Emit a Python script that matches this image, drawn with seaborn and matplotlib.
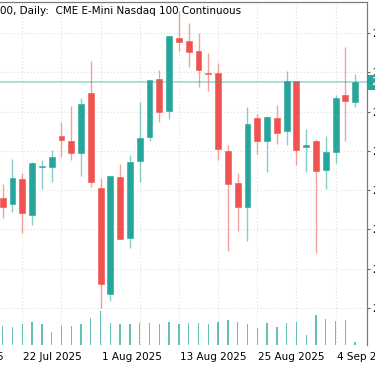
import matplotlib
matplotlib.use("Agg")
import matplotlib.pyplot as plt
import matplotlib.transforms as mtransforms
import numpy as np
import pandas as pd
import seaborn as sns

# daily bars, 18 Jul 2025 .. 8 Sep 2025
opens = [23158, 23129, 23255, 23073, 23318, 23316, 23476, 23451, 23388, 23694,
         23209, 22668, 23267, 22954, 23347, 23469, 23765, 23605, 23974, 23961,
         23911, 23799, 23796, 23401, 23235, 23115, 23566, 23452, 23569, 23503,
         23755, 23421, 23449, 23304, 23394, 23685, 23651]
highs = [23231, 23357, 23286, 23345, 23354, 23405, 23549, 23629, 23668, 23859,
         23260, 23272, 23332, 23378, 23648, 23762, 23813, 23984, 24114, 24051,
         24000, 23901, 23847, 23430, 23289, 23626, 23587, 23578, 23634, 23808,
         23755, 23512, 23459, 23476, 23685, 23929, 23792]
lows = [23056, 23090, 22980, 23022, 23204, 23243, 23370, 23354, 23273, 23217,
        22597, 22636, 22949, 22903, 23243, 23451, 23549, 23561, 23911, 23830,
        23728, 23707, 23354, 22889, 22991, 22942, 23383, 23291, 23434, 23430,
        23328, 23291, 22881, 23207, 23337, 23452, 23624]
closes = [23115, 23260, 23082, 23337, 23323, 23367, 23456, 23388, 23639, 23243,
          22719, 23272, 22949, 23342, 23467, 23762, 23597, 23984, 23957, 23906,
          23813, 23792, 23410, 23230, 23115, 23537, 23451, 23573, 23493, 23758,
          23403, 23432, 23299, 23393, 23668, 23655, 23750]
volumes = [386, 354, 414, 460, 414, 254, 386, 386, 420, 534,
           680, 434, 414, 414, 446, 434, 414, 454, 414, 446,
           434, 414, 466, 500, 466, 414, 346, 446, 360, 434,
           460, 200, 600, 520, 480, 494, 54]
first_day = "2025-07-18"
label_days = ["2025-07-10", "2025-07-22", "2025-08-01", "2025-08-13", "2025-08-25", "2025-09-04"]
price_ticks = [22600, 22800, 23000, 23200, 23400, 23600, 23800, 24000]
title = "00, Daily:  CME E-Mini Nasdaq 100 Continuous"

UP = "#26a69a"
DOWN = "#ef5350"

sns.set_style("white")
plt.rcParams["font.family"] = ["DejaVu Sans"]
plt.rcParams["font.size"] = 7.5

df = pd.DataFrame({"o": opens, "h": highs, "l": lows, "c": closes, "v": volumes})
df["x"] = np.arange(len(df))
df["up"] = df["c"] >= df["o"]

W, H = 375, 366
fig = plt.figure(figsize=(W / 100, H / 100), dpi=100)
ax_v = fig.add_axes([0, 21 / H, 366.7 / W, (345 - 1.7) / H])
ax = ax_v.twinx()

# volume (behind)
sns.barplot(data=df, x="x", y="v", native_scale=True, width=0.14, color=UP,
            saturation=1, alpha=0.7, ax=ax_v, linewidth=0)
ax_v.set_ylim(0, 6866)
ax_v.set_yticks([])
ax_v.set_xlabel("")
ax_v.set_ylabel("")

# candles
for _, r in df.iterrows():
    col = UP if r["up"] else DOWN
    ax.vlines(r["x"], r["l"], r["h"], color=col, alpha=0.55, lw=1.0, zorder=2)
    lo, hi = min(r["o"], r["c"]), max(r["o"], r["c"])
    ax.bar(r["x"], max(hi - lo, 4), bottom=lo, width=0.6, color=col,
           edgecolor=col, linewidth=0.4, zorder=3)

ax.axhline(closes[-1], color=UP, alpha=0.4, lw=1.3, zorder=4)

ax.set_ylim(22410, 24161)
ax.set_yticks(price_ticks)
ax.set_yticklabels([f"{p:,}" for p in price_ticks])
ax.tick_params(axis="y", direction="out", length=2.3, width=0.8, color="#666666",
               pad=1.5, labelsize=7.5, labelcolor="black")
ax.yaxis.grid(True, color="#dedede", lw=0.8, ls=(0, (1, 2)))
ax.set_axisbelow(True)

xlim = (-0.276, 37.18)
ax_v.set_xlim(*xlim)
ax.set_xlim(*xlim)

start = np.datetime64(first_day)
tick_pos = [int(np.busday_count(start, np.datetime64(d))) for d in label_days]
tick_txt = [pd.Timestamp(d).strftime("%-d %b %Y") for d in label_days]
vis = [p for p in tick_pos if xlim[0] <= p <= xlim[1]]
ax_v.set_xticks(vis)
ax_v.set_xticklabels([""] * len(vis))
ax_v.set_xticks([p + 4 for p in vis if p + 4 < xlim[1]], minor=True)
ax_v.tick_params(axis="x", which="major", direction="out", length=2.5, width=0.8,
                 color="#555555")
ax_v.tick_params(axis="x", which="minor", length=0)
ax_v.xaxis.grid(True, which="both", color="#dedede", lw=0.8, ls=(0, (1, 2)))
ax_v.set_axisbelow(True)
xt = ax_v.get_xaxis_transform()
for p, t in zip(tick_pos, tick_txt):
    ax_v.text(p + 0.1, -14.5 / 343.3, t, transform=xt, ha="left", va="baseline",
              fontsize=7.5, color="black", clip_on=False)

for a in (ax, ax_v):
    for s in ("left", "bottom"):
        a.spines[s].set_visible(False)
    for s in ("top", "right"):
        a.spines[s].set_color("#7a7a7a")
        a.spines[s].set_linewidth(0.8)

# last price tag
tr = mtransforms.blended_transform_factory(ax.transAxes, ax.transData)
ax.text(1.012, closes[-1], f"{closes[-1]:,}", transform=tr, ha="left", va="center",
        color="white", fontsize=7.5, clip_on=False,
        bbox=dict(boxstyle="square,pad=0.25", fc=UP, ec="none"))

fig.text(0, 1 - 13.5 / H, title, ha="left", va="baseline", fontsize=7.5, color="black")

fig.savefig("out.png", dpi=100)
